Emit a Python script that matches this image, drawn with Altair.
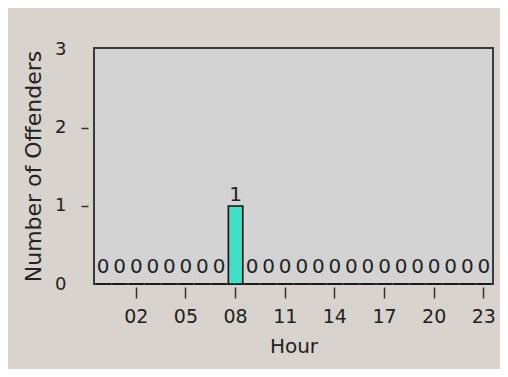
import altair as alt
import pandas as pd

hours = ["00", "01", "02", "03", "04", "05", "06", "07", "08", "09", "10", "11",
         "12", "13", "14", "15", "16", "17", "18", "19", "20", "21", "22", "23"]
offenders = [0, 0, 0, 0, 0, 0, 0, 0, 1, 0, 0, 0,
             0, 0, 0, 0, 0, 0, 0, 0, 0, 0, 0, 0]
tick_hours = ["02", "05", "08", "11", "14", "17", "20", "23"]
y_ticks = [0, 1, 2, 3]

df = pd.DataFrame({"Hour": hours, "Offenders": offenders})

FONT = "DejaVu Sans"
TXT = "#222222"

x_enc = alt.X(
    "Hour:O",
    sort=hours,
    scale=alt.Scale(paddingInner=0.13, paddingOuter=0.12),
    axis=alt.Axis(
        values=tick_hours, labelAngle=0, title="Hour", domain=False,
        offset=3, tickSize=11, tickColor="#333333", tickWidth=1.5,
        labelPadding=9, labelFontSize=19, labelFont=FONT, labelColor=TXT,
        titleFontSize=20, titleFont=FONT, titleColor=TXT, titleFontWeight="normal",
        titlePadding=10,
    ),
)
y_enc = alt.Y(
    "Offenders:Q",
    scale=alt.Scale(domain=[0, 3.025], nice=False),
    axis=alt.Axis(
        values=y_ticks, format="d", title="Number of Offenders", domain=False,
        grid=False, offset=6, tickSize=7, tickColor="#333333", tickWidth=1.5,
        tickOpacity={"condition": {"test": "datum.value == 0 || datum.value == 3", "value": 0}, "value": 1},
        labelPadding=15, labelFontSize=18, labelFont=FONT, labelColor=TXT,
        titleFontSize=22, titleFont=FONT, titleColor=TXT, titleFontWeight="normal",
        titlePadding=9,
    ),
)

bars = alt.Chart(df).mark_bar(
    color="#3fe0c8", stroke="#111111", strokeWidth=1.6
).encode(x=x_enc, y=y_enc)

zero_labels = alt.Chart(df).transform_filter("datum.Offenders == 0").mark_text(
    baseline="alphabetic", dy=-11, fontSize=20, font=FONT, color=TXT
).encode(x=x_enc, y=y_enc, text="Offenders:Q")

pos_labels = alt.Chart(df).transform_filter("datum.Offenders > 0").mark_text(
    baseline="alphabetic", dy=-5, fontSize=20, font=FONT, color=TXT
).encode(x=x_enc, y=y_enc, text="Offenders:Q")

chart = alt.layer(bars, zero_labels, pos_labels).properties(
    width=399,
    height=236,
    background="#d8d3cc",
    autosize=alt.AutoSizeParams(type="none"),
    padding={"left": 86, "top": 40, "right": 7, "bottom": 85},
).configure_view(
    fill="#d3d3d3", stroke="#3a3a3a", strokeWidth=2
)

chart.save("out.html", embed_options={"renderer": "svg", "actions": False})
